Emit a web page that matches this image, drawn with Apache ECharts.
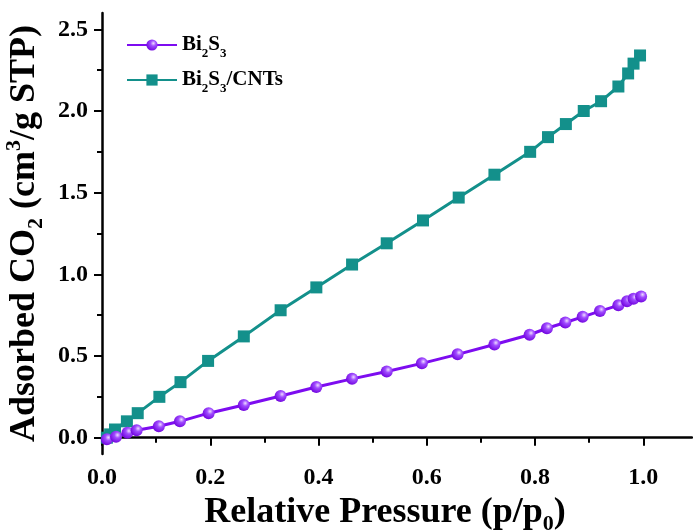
<!DOCTYPE html>
<html>
<head>
<meta charset="utf-8">
<script src="https://cdn.jsdelivr.net/npm/echarts@6/dist/echarts.min.js"></script>
<style>
  html, body { margin: 0; padding: 0; background: #fff; }
  #chart { width: 693px; height: 531px; }
</style>
</head>
<body>
<div id="chart"></div>
<script>
// CO2 adsorption isotherms (relative pressure vs adsorbed volume)
const seriesNames = ['Bi2S3', 'Bi2S3/CNTs'];

const bi2s3P = [0.009, 0.026, 0.047, 0.064, 0.105, 0.144, 0.197, 0.262, 0.330, 0.396, 0.462, 0.526,
                0.591, 0.657, 0.725, 0.790, 0.822, 0.856, 0.888, 0.920, 0.954, 0.970, 0.982, 0.996];
const bi2s3V = [-0.01, 0.005, 0.03, 0.045, 0.07, 0.10, 0.15, 0.20, 0.255, 0.31, 0.36, 0.405,
                0.455, 0.51, 0.57, 0.63, 0.67, 0.705, 0.74, 0.775, 0.81, 0.835, 0.85, 0.865];

const cntP = [0.009, 0.015, 0.024, 0.046, 0.066, 0.106, 0.145, 0.196, 0.262, 0.330, 0.396, 0.462, 0.526,
              0.593, 0.659, 0.725, 0.791, 0.824, 0.857, 0.890, 0.922, 0.954, 0.972, 0.982, 0.994];
const cntV = [0.00, 0.02, 0.05, 0.10, 0.15, 0.25, 0.34, 0.47, 0.62, 0.78, 0.92, 1.06, 1.19,
              1.33, 1.47, 1.61, 1.75, 1.84, 1.92, 2.00, 2.06, 2.15, 2.23, 2.29, 2.34];

const xMajorTicks = [0, 0.2, 0.4, 0.6, 0.8, 1.0];
const xMinorTicks = [0.1, 0.3, 0.5, 0.7, 0.9];
const yMajorTicks = [0, 0.5, 1.0, 1.5, 2.0, 2.5];
const yMinorTicks = [0.25, 0.75, 1.25, 1.75, 2.25];

const FONT = '"Liberation Serif", "Times New Roman", serif';
const PURPLE = '#7d0cf0';
const TEAL = '#13908b';

const pairs = (xs, ys) => xs.map((x, i) => [x, ys[i]]);

// rich-text pieces for sub/superscripts
function scriptStyles(size, lh) {
  const small = Math.round(size * 0.6);
  return {
    n: { fontFamily: FONT, fontWeight: 'bold', fontSize: size, lineHeight: lh, color: '#000' },
    sub: { fontFamily: FONT, fontWeight: 'bold', fontSize: small, lineHeight: small, verticalAlign: 'bottom', color: '#000' },
    sup: { fontFamily: FONT, fontWeight: 'bold', fontSize: small, lineHeight: small, verticalAlign: 'top', color: '#000' }
  };
}

const legendLabels = {
  'Bi2S3': '{n|Bi}{sub|2}{n|S}{sub|3}',
  'Bi2S3/CNTs': '{n|Bi}{sub|2}{n|S}{sub|3}{n|/CNTs}'
};

const sphere = {
  type: 'radial', x: 0.62, y: 0.35, r: 0.7,
  colorStops: [
    { offset: 0, color: '#eedcff' },
    { offset: 0.35, color: '#a04cff' },
    { offset: 1, color: '#6e00dc' }
  ]
};

const chart = echarts.init(document.getElementById('chart'), null, { renderer: 'canvas' });

const axisLineStyle = { color: '#000', width: 2.5 };

const option = {
  animation: false,
  backgroundColor: '#fff',
  grid: { left: 102, top: 13, width: 590, height: 441, containLabel: false, outerBoundsMode: 'none' },
  legend: {
    orient: 'vertical',
    left: 126,
    top: 30,
    padding: 0,
    itemWidth: 50,
    itemHeight: 14,
    itemGap: 5,
    data: seriesNames,
    formatter: name => legendLabels[name],
    textStyle: { fontFamily: FONT, fontWeight: 'bold', fontSize: 21, lineHeight: 30, rich: scriptStyles(21, 30) }
  },
  xAxis: [
    {
      type: 'value', min: 0, max: 1.09, gridIndex: 0,
      axisLine: { show: true, lineStyle: axisLineStyle },
      axisTick: { show: true, inside: false, length: 8, lineStyle: { color: '#000', width: 2 }, customValues: xMajorTicks },
      axisLabel: {
        customValues: xMajorTicks, margin: 12,
        fontFamily: FONT, fontWeight: 'bold', fontSize: 24, color: '#000',
        formatter: v => v.toFixed(1)
      },
      splitLine: { show: false },
      name: '{n|Relative Pressure (p/p}{sub|0}{n|)}',
      nameLocation: 'middle',
      nameGap: 27,
      nameTextStyle: { padding: [0, 24, 0, 0], rich: scriptStyles(36, 44) }
    },
    {
      type: 'value', min: 0, max: 1.09, gridIndex: 0, position: 'bottom',
      axisLine: { show: false },
      axisTick: { show: true, inside: false, length: 5, lineStyle: { color: '#000', width: 2 }, customValues: xMinorTicks },
      axisLabel: { show: false },
      splitLine: { show: false }
    }
  ],
  yAxis: [
    {
      type: 'value', min: -0.1, max: 2.6, gridIndex: 0,
      axisLine: { show: true, lineStyle: axisLineStyle },
      axisTick: { show: true, inside: false, length: 8, lineStyle: { color: '#000', width: 2 }, customValues: yMajorTicks },
      axisLabel: {
        customValues: yMajorTicks, margin: 14,
        fontFamily: FONT, fontWeight: 'bold', fontSize: 24, color: '#000',
        formatter: v => v.toFixed(1)
      },
      splitLine: { show: false },
      name: '{n|Adsorbed CO}{sub|2}{n| (cm}{sup|3}{n|/g STP)}',
      nameLocation: 'middle',
      nameGap: 52,
      nameTextStyle: { rich: scriptStyles(36, 44) }
    },
    {
      type: 'value', min: -0.1, max: 2.6, gridIndex: 0, position: 'left',
      axisLine: { show: false },
      axisTick: { show: true, inside: false, length: 5, lineStyle: { color: '#000', width: 2 }, customValues: yMinorTicks },
      axisLabel: { show: false },
      splitLine: { show: false }
    }
  ],
  series: [
    {
      name: seriesNames[1],
      type: 'line',
      xAxisIndex: 0, yAxisIndex: 0,
      data: pairs(cntP, cntV),
      symbol: 'rect',
      symbolSize: 12,
      lineStyle: { color: TEAL, width: 3 },
      itemStyle: { color: TEAL },
      z: 2
    },
    {
      name: seriesNames[0],
      type: 'line',
      xAxisIndex: 0, yAxisIndex: 0,
      data: pairs(bi2s3P, bi2s3V),
      symbol: 'circle',
      symbolSize: 12,
      lineStyle: { color: PURPLE, width: 3 },
      itemStyle: { color: sphere, borderWidth: 0 },
      z: 3
    }
  ]
};

chart.setOption(option);
</script>
</body>
</html>
